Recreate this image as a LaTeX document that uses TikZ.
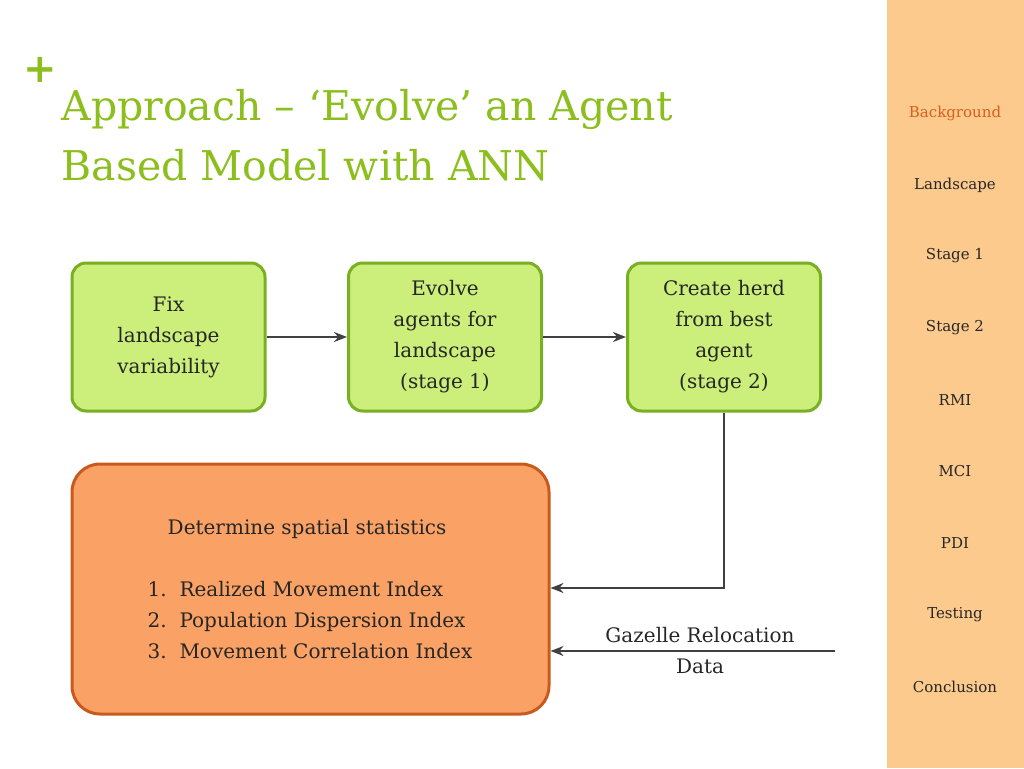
\documentclass[tikz,border=0pt]{standalone}
\usepackage{fontspec}
\setmainfont{DejaVu Serif}
\usetikzlibrary{arrows.meta}
\definecolor{titlegreen}{RGB}{140,190,30}
\definecolor{boxfill}{RGB}{204,238,122}
\definecolor{boxline}{RGB}{120,175,35}
\definecolor{orfill}{RGB}{250,162,102}
\definecolor{orline}{RGB}{200,90,30}
\definecolor{sidebar}{RGB}{253,202,142}
\definecolor{activeitem}{RGB}{215,95,30}
\tikzset{
  stagebox/.style={draw=boxline,fill=boxfill,line width=3pt,rounded corners=14pt,
    minimum width=193pt,minimum height=148pt,align=center,font=\fontsize{20}{31}\selectfont,text=black!85},
  flow/.style={-{Stealth[length=13pt,width=10pt]},line width=2pt,draw=black!75},
  sideitem/.style={font=\fontsize{15}{18}\selectfont,text=black!85}
}
\begin{document}
\begin{tikzpicture}[x=1pt,y=-1pt]
\useasboundingbox (0,0) rectangle (1024,768);

% Seitenleiste
\fill[sidebar] (887,0) rectangle (1024,768);
\node[sideitem,text=activeitem] (sb1) at (955,113) {Background};
\foreach \name/\lbl/\yy in {sb2/Landscape/185,sb3/Stage 1/256,sb4/Stage 2/328,sb5/RMI/400,sb6/MCI/471,sb7/PDI/543,sb8/Testing/615,sb9/Conclusion/687}
  \node[sideitem] (\name) at (955,\yy) {\lbl};

% Titel
\node[text=titlegreen,font=\fontsize{40}{40}\selectfont\bfseries] (plus) at (40,70) {+};
\node[anchor=west,text=titlegreen,align=left,font=\fontsize{41}{60}\selectfont] (title) at (58,135)
  {Approach -- `Evolve' an Agent\\Based Model with ANN};

% Schritte
\node[stagebox] (fix) at (168.5,337) {Fix\\landscape\\variability};
\node[stagebox] (evolve) at (445,337) {Evolve\\agents for\\landscape\\(stage 1)};
\node[stagebox] (herd) at (724,337) {Create herd\\from best\\agent\\(stage 2)};

% Statistik
\node[draw=orline,fill=orfill,line width=3pt,rounded corners=28pt,minimum width=477pt,
  minimum height=250pt] (stats) at (310.5,589) {};
\node[font=\fontsize{20}{31}\selectfont,text=black!85,align=left] (statstxt) at (310,589)
  {\quad Determine spatial statistics\\[31pt]
   1.\ \ Realized Movement Index\\
   2.\ \ Population Dispersion Index\\
   3.\ \ Movement Correlation Index};

% Pfeile
\draw[flow] (fix) -- (evolve);
\draw[flow] (evolve) -- (herd);
\draw[flow] (herd.south) |- (stats.east |- 0,588);
\coordinate (gzl) at (835,651);
\draw[flow] (gzl) -- (stats.east |- gzl);
\node[font=\fontsize{20}{31}\selectfont,text=black!85,align=center] (gztxt) at (700,651)
  {Gazelle Relocation\\Data};
\end{tikzpicture}
\end{document}
